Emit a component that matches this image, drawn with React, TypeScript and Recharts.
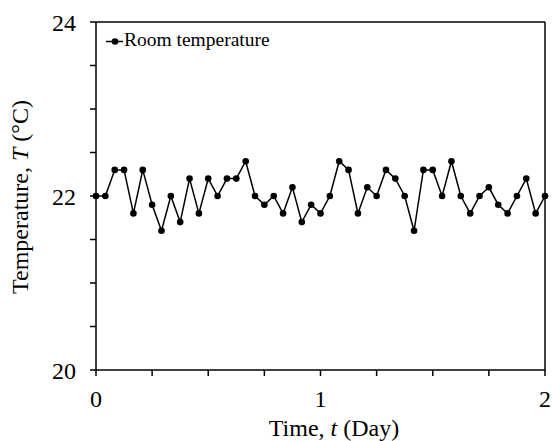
import { LineChart, Line, XAxis, YAxis, ReferenceLine, Legend } from 'recharts';

// hours since start (2 days, hourly readings)
const hours = [
    0, 1, 2, 3, 4, 5, 6, 7, 8, 9, 10, 11, 12, 13, 14, 15, 16, 17, 18, 19, 20, 21, 22, 23, 24,
    25, 26, 27, 28, 29, 30, 31, 32, 33, 34, 35, 36, 37, 38, 39, 40, 41, 42, 43, 44, 45, 46, 47, 48,
];
const roomTemp = [
    22.0, 22.0, 22.3, 22.3, 21.8, 22.3, 21.9, 21.6, 22.0, 21.7, 22.2, 21.8, 22.2, 22.0, 22.2, 22.2, 22.4,
    22.0, 21.9, 22.0, 21.8, 22.1, 21.7, 21.9, 21.8, 22.0, 22.4, 22.3, 21.8, 22.1, 22.0, 22.3, 22.2,
    22.0, 21.6, 22.3, 22.3, 22.0, 22.4, 22.0, 21.8, 22.0, 22.1, 21.9, 21.8, 22.0, 22.2, 21.8, 22.0,
];
const xTicks = [0, 6, 12, 18, 24, 30, 36, 42, 48];
const yTicks = [20, 20.5, 21, 21.5, 22, 22.5, 23, 23.5, 24];

const data = hours.map((h, i) => ({ hour: h, temp: roomTemp[i] }));

const FONT = 'Liberation Serif';

const LegendBox = () => (
    <svg width={200} height={26}>
        <line x1={2} y1={15.5} x2={19} y2={15.5} stroke="black" strokeWidth={1.5} />
        <circle cx={11} cy={15.5} r={3.3} fill="black" />
        <text x={20} y={20} fontFamily={FONT} fontSize={19.5} fill="black">
            Room temperature
        </text>
    </svg>
);

const YTitle = () => (
    <text transform="translate(28,197) rotate(-90)" textAnchor="middle" fontFamily={FONT} fontSize={24} fill="black">
        Temperature, <tspan fontStyle="italic">T</tspan> (°C)
    </text>
);

const XTitle = () => (
    <text x={334} y={436} textAnchor="middle" fontFamily={FONT} fontSize={24} fill="black">
        Time, <tspan fontStyle="italic">t</tspan> (Day)
    </text>
);

// only whole days get a label, the rest are minor ticks
const renderXTick = ({ x, y, payload }: any) =>
    payload.value % 24 === 0 ? (
        <text
            key={payload.value}
            x={x}
            y={y}
            dy="0.71em"
            textAnchor="middle"
            style={{ fontFamily: FONT, fontSize: 24, fill: 'black' }}>
            {payload.value / 24}
        </text>
    ) : (
        <g key={payload.value} />
    );

// labels at 20, 22, 24 only
const renderYTick = ({ x, y, payload }: any) =>
    Number.isInteger(payload.value) && payload.value % 2 === 0 ? (
        <text
            key={payload.value}
            x={x}
            y={y}
            dy="0.355em"
            textAnchor="end"
            style={{ fontFamily: FONT, fontSize: 24, fill: 'black' }}>
            {payload.value}
        </text>
    ) : (
        <g key={payload.value} />
    );

export default function App() {
    return (
        <div
            style={{
                position: 'absolute',
                left: 0,
                top: 0,
                width: 552,
                height: 441,
                background: 'white',
                fontFamily: FONT,
            }}>
            <LineChart width={552} height={441} data={data} margin={{ top: 22, right: 7, bottom: 0, left: 0 }}>
                <XAxis
                    dataKey="hour"
                    type="number"
                    domain={[0, 48]}
                    ticks={xTicks}
                    interval={0}
                    height={71}
                    tickSize={6}
                    tickMargin={14}
                    tick={renderXTick}
                    axisLine={{ stroke: 'black', strokeWidth: 1.5 }}
                    tickLine={{ stroke: 'black', strokeWidth: 1.5 }}
                    label={<XTitle />}
                />
                <YAxis
                    domain={[20, 24]}
                    ticks={yTicks}
                    interval={0}
                    width={96}
                    tickSize={6}
                    tickMargin={14}
                    tick={renderYTick}
                    axisLine={{ stroke: 'black', strokeWidth: 1.5 }}
                    tickLine={{ stroke: 'black', strokeWidth: 1.5 }}
                    label={<YTitle />}
                />
                <ReferenceLine y={24} stroke="black" strokeWidth={1.5} />
                <ReferenceLine x={48} stroke="black" strokeWidth={1.5} />
                <Legend
                    layout="horizontal"
                    align="center"
                    verticalAlign="middle"
                    content={<LegendBox />}
                    wrapperStyle={{ position: 'absolute', left: 104, top: 26, width: 200 }}
                />
                <Line
                    type="linear"
                    dataKey="temp"
                    name="Room temperature"
                    stroke="black"
                    strokeWidth={1.5}
                    dot={{ r: 3.3, fill: 'black', stroke: 'none' }}
                    isAnimationActive={false}
                />
            </LineChart>
        </div>
    );
}
